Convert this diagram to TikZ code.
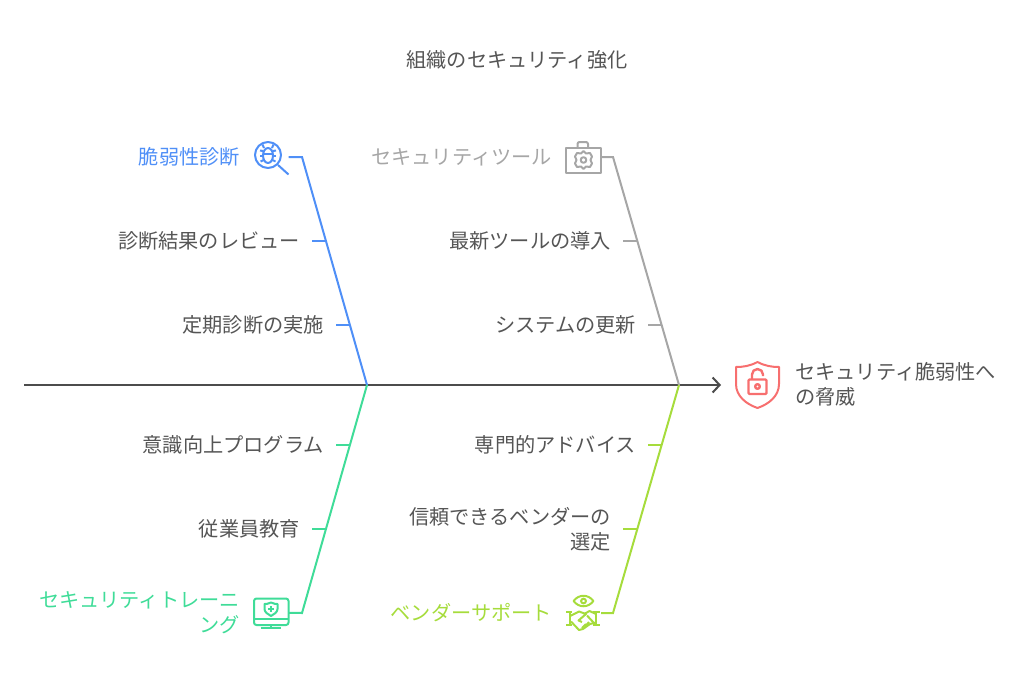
\documentclass[tikz,border=0pt]{standalone}
\usepackage{fontspec}
\setmainfont{Noto Sans CJK JP}
\usetikzlibrary{arrows.meta}
\definecolor{inkgray}{HTML}{555555}
\definecolor{boneblue}{HTML}{4F8FF7}
\definecolor{bonegray}{HTML}{A6A6A6}
\definecolor{bonegreen}{HTML}{3FDC98}
\definecolor{bonelime}{HTML}{A6DC3C}
\definecolor{bonered}{HTML}{F76F6F}
\def\topY{157}
\def\botY{613}
\def\midY{385}

\begin{document}
\begin{tikzpicture}[
    x=1pt, y=-1pt,
    txt/.style={
      font=\fontsize{20.2}{25}\selectfont, text=inkgray, inner ysep=0pt
    },
    causelabel/.style={
      txt, anchor=east, align=right, inner xsep=12pt
    },
    headlabel/.style={
      causelabel, inner xsep=0pt
    },
    iconbox/.style={
      minimum size=36pt, inner sep=0pt
    },
    bone/.style={
      line width=2pt
    },
    icon/.style={
      line width=2pt, line join=round
    },
    spine/.style={
      line width=2pt, draw=inkgray!90!black,
      -{Straight Barb[length=7pt,width=15pt,line width=2pt]}
    }
  ]
    \useasboundingbox (0,0) rectangle (1022,686);

    \node[txt] (Title) at (517,60) {組織のセキュリティ強化};

    % joints on the spine
    \coordinate (TailEnd) at (24,\midY);
    \coordinate (ArrowEnd) at (721,\midY);
    \coordinate (JointL) at (367,\midY);
    \coordinate (JointR) at (679,\midY);
    \coordinate (TopL) at (302,\topY);
    \coordinate (TopR) at (613,\topY);
    \coordinate (BotL) at (302,\botY);
    \coordinate (BotR) at (613,\botY);

    % head
    \node[iconbox] (ShieldIcon) at (757.5,385) {};
    \node[txt, anchor=west, align=left, inner xsep=0pt] (Effect) at (795,384) {セキュリティ脆弱性へ\\の脅威};
    \draw[spine] (TailEnd) -- (ArrowEnd);

    % upper left
    \node[iconbox] (BugIcon) at (270.5,\topY) {};
    \node[headlabel, text=boneblue] (DiagHead) at (240,\topY) {脆弱性診断};
    \node[causelabel] (ReviewLabel) at (312,240.5) {診断結果のレビュー};
    \node[causelabel] (RegularLabel) at (336,325) {定期診断の実施};
    \coordinate (ReviewJoint) at (326,240.5);
    \coordinate (RegularJoint) at (350,325);
    \draw[bone, boneblue] (BugIcon) -- (TopL) -- (JointL);
    \draw[bone, boneblue] (ReviewLabel) -- (ReviewJoint);
    \draw[bone, boneblue] (RegularLabel) -- (RegularJoint);

    % upper right
    \node[iconbox] (ToolIcon) at (583,\topY) {};
    \node[headlabel, text=bonegray] (ToolHead) at (552,\topY) {セキュリティツール};
    \node[causelabel] (NewToolLabel) at (623,240.5) {最新ツールの導入};
    \node[causelabel] (UpdateLabel) at (648,325) {システムの更新};
    \coordinate (NewToolJoint) at (637,240.5);
    \coordinate (UpdateJoint) at (662,325);
    \draw[bone, bonegray] (ToolIcon) -- (TopR) -- (JointR);
    \draw[bone, bonegray] (NewToolLabel) -- (NewToolJoint);
    \draw[bone, bonegray] (UpdateLabel) -- (UpdateJoint);

    % lower left
    \node[iconbox] (ScreenIcon) at (271,612.5) {};
    \node[headlabel, text=bonegreen] (TrainHead) at (240,612.5) {セキュリティトレーニ\\ング};
    \node[causelabel] (AwareLabel) at (336,445) {意識向上プログラム};
    \node[causelabel] (StaffLabel) at (312,529) {従業員教育};
    \coordinate (AwareJoint) at (350,445);
    \coordinate (StaffJoint) at (326,529);
    \draw[bone, bonegreen] (ScreenIcon) -- (BotL) -- (JointL);
    \draw[bone, bonegreen] (AwareLabel) -- (AwareJoint);
    \draw[bone, bonegreen] (StaffLabel) -- (StaffJoint);

    % lower right
    \node[iconbox] (ShakeIcon) at (583,\botY) {};
    \node[headlabel, text=bonelime] (VendorHead) at (552,612.5) {ベンダーサポート};
    \node[causelabel] (ExpertLabel) at (648,445) {専門的アドバイス};
    \node[causelabel] (TrustLabel) at (623,529) {信頼できるベンダーの\\選定};
    \coordinate (ExpertJoint) at (662,445);
    \coordinate (TrustJoint) at (638,529);
    \draw[bone, bonelime] (ShakeIcon) -- (BotR) -- (JointR);
    \draw[bone, bonelime] (ExpertLabel) -- (ExpertJoint);
    \draw[bone, bonelime] (TrustLabel) -- (TrustJoint);

    % icons
    \begin{scope}[icon, bonered]
      \draw (757.5,362) .. controls (750,366) and (743,367) .. (736,367)
        -- (736,384) .. controls (736,396) and (746,404) .. (757.5,408)
        .. controls (769,404) and (779,396) .. (779,384) -- (779,367)
        .. controls (772,367) and (765,366) .. (757.5,362) -- cycle;
      \draw[rounded corners=1pt, line width=2.4pt] (748.5,379.5) rectangle (766.5,394);
      \draw[line width=2.4pt] (752,379.5) -- (752,374.5) arc (180:360:5.5) -- (763,376);
      \draw[line width=2.4pt] (757.5,386.5) circle (2.3);
    \end{scope}
    \begin{scope}[icon, boneblue]
      \draw (268,155) circle (13);
      \draw (278,165) -- (288.5,174.5);
      \draw (268,155.5) ellipse (5 and 7.5);
      \draw (263,154) -- (273,154);
      \draw (264,148) -- (262.5,144.5) (272,148) -- (273.5,144.5);
      \draw (263,151) -- (260,150.5) (273,151) -- (276,150.5);
      \draw (263,156) -- (260,156) (273,156) -- (276,156);
      \draw (263.5,160) -- (260.5,161.5) (272.5,160) -- (275.5,161.5);
    \end{scope}
    \begin{scope}[icon, bonegray]
      \draw (566,147.5) rectangle (601,172.5);
      \draw[rounded corners=2pt] (577.5,147.5) -- (577.5,142) -- (588,142) -- (588,147.5);
      \draw (583.5,160) circle (2.8);
      \draw (583.5,151) -- (586,153.5) -- (590,153) -- (592,156.5) -- (590.5,160)
        -- (592,163.5) -- (590,167) -- (586,166.5) -- (583.5,169) -- (581,166.5)
        -- (577,167) -- (575,163.5) -- (576.5,160) -- (575,156.5) -- (577,153)
        -- (581,153.5) -- cycle;
    \end{scope}
    \begin{scope}[icon, bonegreen]
      \draw[rounded corners=2.5pt] (254,598.5) rectangle (288.5,625);
      \draw (254,618.5) -- (288.5,618.5);
      \draw (270.5,625) -- (270.5,628);
      \draw (260.5,628) -- (281,628);
      \draw (271,602.5) .. controls (268,604) and (266,604) .. (264.5,604)
        -- (264.5,609) .. controls (264.5,612) and (268,614.5) .. (271,616)
        .. controls (274,614.5) and (277.5,612) .. (277.5,609) -- (277.5,604)
        .. controls (276,604) and (274,604) .. (271,602.5) -- cycle;
      \draw (271,606) -- (271,612) (268,609) -- (274,609);
    \end{scope}
    \begin{scope}[icon, bonelime]
      \draw (573.5,601) .. controls (579,594) and (588,594) .. (593.5,601)
        .. controls (588,608) and (579,608) .. (573.5,601) -- cycle;
      \draw (583.5,601) circle (2.4);
      \draw (566,612) -- (572,612) (570,612) -- (570,625) (566,625) -- (572,625);
      \draw (593,612) -- (600,612) (596,612) -- (596,625) (593,625) -- (600,625);
      \draw (570,616) -- (579,611.5) -- (586,614) -- (578.5,620.5) -- (582,622);
      \draw (585,613.5) -- (589.5,611) -- (596,614);
      \draw (571,621.5) -- (579,630) -- (583,629) -- (590,624) -- (596,622.5);
      \draw (587,615.5) -- (593.5,622.5);
      \draw (582,628) -- (586,624) (585.5,626) -- (589,622);
    \end{scope}
  \end{tikzpicture}
\end{document}
